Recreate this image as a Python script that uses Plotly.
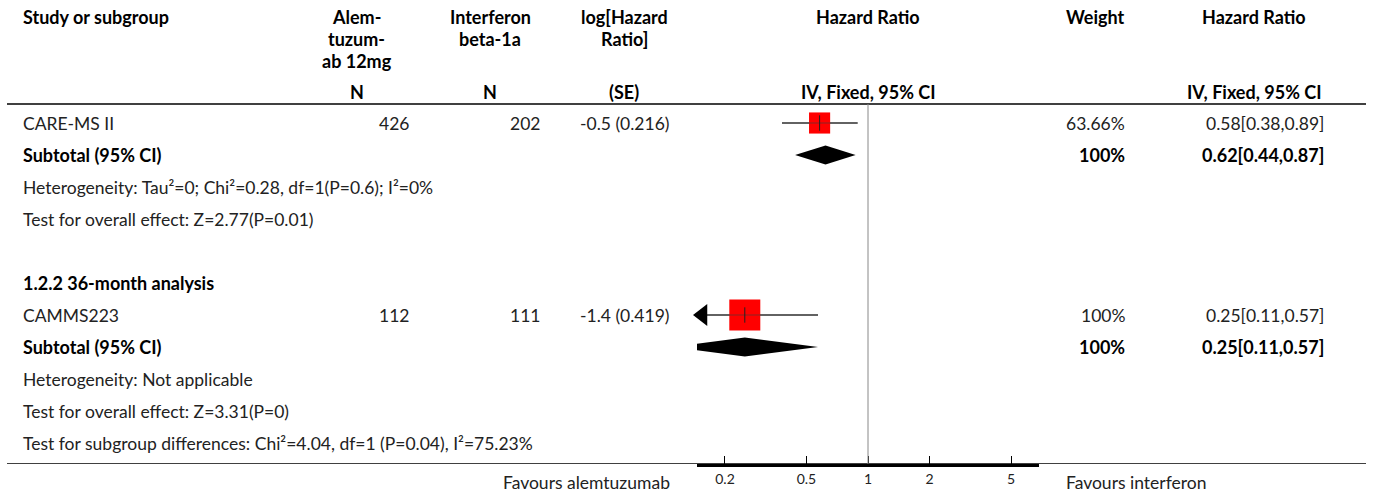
import math
import plotly.graph_objects as go

# ---------------- data ----------------
studies = ["CARE-MS II", "CAMMS223"]
study_rows = [0, 6]
n_alem = [426, 112]
n_ifn = [202, 111]
log_hr = [-0.5, -1.4]
log_se = [0.216, 0.419]
weights = [63.66, 100]
hr = [0.58, 0.25]
hr_lo = [0.38, 0.11]
hr_hi = [0.89, 0.57]

subtotal_rows = [1, 7]
sub_weight = [100, 100]
sub_hr = [0.62, 0.25]
sub_lo = [0.44, 0.11]
sub_hi = [0.87, 0.57]

group_rows = [5]
group_labels = ["1.2.2 36-month analysis"]

note_rows = [2, 3, 8, 9, 10]
note_texts = [
    "Heterogeneity: Tau²=0; Chi²=0.28, df=1(P=0.6); I²=0%",
    "Test for overall effect: Z=2.77(P=0.01)",
    "Heterogeneity: Not applicable",
    "Test for overall effect: Z=3.31(P=0)",
    "Test for subgroup differences: Chi²=4.04, df=1 (P=0.04), I²=75.23%",
]

tick_vals = [0.2, 0.5, 1, 2, 5]
tick_text = ["0.2", "0.5", "1", "2", "5"]
favours_left = "Favours alemtuzumab"
favours_right = "Favours interferon"

# ---------------- layout constants ----------------
W, H = 1375, 493
ROW0, ROW_H = 123, 32          # pixel centre of row 0 and row spacing
AXIS_PX = 464                  # pixel y of the x-axis line
AX_L, AX_R = 697, 1039         # pixel extent of forest axis
AXIS_MIN = 0.146
AXIS_MAX = 1 / AXIS_MIN
FONT = "Lato, 'Source Sans Pro', 'Noto Sans', sans-serif"
FS = 17.5
FS_B = 18
TXT = "#222222"


def prow(p):
    return (p - ROW0) / ROW_H


def px(x):
    return x / W


def py_paper(p):
    return 1 - p / H


Y_TOP = prow(0)
Y_BOT = prow(AXIS_PX)

fig = go.Figure()
ann = []


def txt(xpx, y, text, anchor="left", bold=False, yref="y"):
    if bold:
        text = "<b>" + text + "</b>"
    ann.append(dict(x=px(xpx), xref="paper", y=y, yref=yref, text=text,
                    xanchor=anchor, yanchor="middle", showarrow=False, borderpad=0,
                    font=dict(family=FONT, size=FS_B if bold else FS,
                              color="#000" if bold else TXT)))


# ---- header ----
hdr = [
    (22, ["Study or subgroup"], "left", None),
    (357, ["Alem-", "tuzum-", "ab 12mg"], "center", "N"),
    (490, ["Interferon", "beta-1a"], "center", "N"),
    (624, ["log[Hazard", "Ratio]"], "center", "(SE)"),
    (868, ["Hazard Ratio"], "center", "IV, Fixed, 95% CI"),
    (1095, ["Weight"], "center", None),
    (1254, ["Hazard Ratio"], "center", "IV, Fixed, 95% CI"),
]
for x, lines, anc, sub in hdr:
    for i, ln in enumerate(lines):
        txt(x, prow(17 + 22 * i), ln, anc, bold=True)
    if sub:
        txt(x, prow(92), sub, anc, bold=True)

# ---- study rows ----
for i, r in enumerate(study_rows):
    txt(22, r, studies[i])
    txt(410, r, str(n_alem[i]), "right")
    txt(541, r, str(n_ifn[i]), "right")
    txt(671, r, f"{log_hr[i]} ({log_se[i]})", "right")
    txt(1126, r, f"{weights[i]:g}%", "right")
    txt(1325, r, f"{hr[i]:.2f}[{hr_lo[i]:.2f},{hr_hi[i]:.2f}]", "right")

for i, r in enumerate(subtotal_rows):
    txt(22, r, "Subtotal (95% CI)", bold=True)
    txt(1126, r, f"{sub_weight[i]:g}%", "right", bold=True)
    txt(1325, r, f"{sub_hr[i]:.2f}[{sub_lo[i]:.2f},{sub_hi[i]:.2f}]", "right", bold=True)

for r, t in zip(group_rows, group_labels):
    txt(22, r, t, bold=True)
for r, t in zip(note_rows, note_texts):
    txt(22, r, t)

# favours labels (below the axis -> paper coordinates)
txt(671, py_paper(482), favours_left, "right", yref="paper")
txt(1065, py_paper(482), favours_right, "left", yref="paper")

# ---------------- forest marks ----------------
DEC_PX = (AX_R - AX_L) / (math.log10(AXIS_MAX) - math.log10(AXIS_MIN))

for i, r in enumerate(study_rows):
    fig.add_trace(go.Scatter(x=[hr_lo[i], hr_hi[i]], y=[r, r], mode="lines",
                             line=dict(color="#444444", width=1.5), hoverinfo="skip"))
    size = 31 * (weights[i] / 100) ** 0.85
    fig.add_trace(go.Scatter(x=[hr[i]], y=[r], mode="markers",
                             marker=dict(symbol="square", size=size, color="#ff0000",
                                         line=dict(width=0)), hoverinfo="skip"))
    # CI line visible through the box
    fig.add_trace(go.Scatter(x=[hr_lo[i], hr_hi[i]], y=[r, r], mode="lines",
                             line=dict(color="rgba(60,60,60,0.6)", width=1.2),
                             hoverinfo="skip"))
    fig.add_trace(go.Scatter(x=[hr[i]], y=[r], mode="markers",
                             marker=dict(symbol="line-ns", size=11,
                                         line=dict(width=1, color="#222")), hoverinfo="skip"))
    if hr_lo[i] < AXIS_MIN:
        xa = 10 ** (math.log10(AXIS_MIN) + 5.5 / DEC_PX)
        fig.add_trace(go.Scatter(x=[xa], y=[r], mode="markers", cliponaxis=False,
                                 marker=dict(symbol="triangle-left", size=19, color="#000",
                                             line=dict(width=0)), hoverinfo="skip"))

DH = 9.5 / ROW_H
for i, r in enumerate(subtotal_rows):
    fig.add_trace(go.Scatter(x=[sub_lo[i], sub_hr[i], sub_hi[i], sub_hr[i], sub_lo[i]],
                             y=[r, r - DH, r, r + DH, r], mode="lines", fill="toself",
                             fillcolor="#000", line=dict(width=0, color="#000"),
                             hoverinfo="skip"))

# ---------------- lines ----------------
shapes = [
    dict(type="line", xref="paper", yref="y", x0=px(7), x1=px(1366),
         y0=prow(104), y1=prow(104), line=dict(color="#000", width=1.5)),
    dict(type="line", xref="paper", yref="y", x0=px(7), x1=px(1366),
         y0=Y_BOT, y1=Y_BOT, line=dict(color="#000", width=1.5)),
    dict(type="line", xref="x", yref="y", x0=1, x1=1,
         y0=prow(104), y1=Y_BOT, line=dict(color="#888888", width=1)),
]

fig.update_layout(
    width=W, height=H, margin=dict(l=0, r=0, t=0, b=0),
    paper_bgcolor="white", plot_bgcolor="rgba(0,0,0,0)",
    showlegend=False, annotations=ann, shapes=shapes,
    font=dict(family=FONT, size=FS, color=TXT),
    xaxis=dict(type="log", domain=[px(AX_L), px(AX_R)],
               range=[math.log10(AXIS_MIN), math.log10(AXIS_MAX)],
               tickvals=tick_vals, ticktext=tick_text, ticks="inside", ticklen=8,
               tickcolor="#000", tickwidth=1, showline=True, linecolor="#000",
               linewidth=3, showgrid=False, zeroline=False,
               tickfont=dict(family=FONT, size=14, color=TXT), fixedrange=True),
    yaxis=dict(domain=[(H - AXIS_PX) / H, 1], range=[Y_BOT, Y_TOP], visible=False,
               fixedrange=True),
)

fig.write_html("out.html", config={"displayModeBar": False},
               post_script="document.body.style.margin='0';")
